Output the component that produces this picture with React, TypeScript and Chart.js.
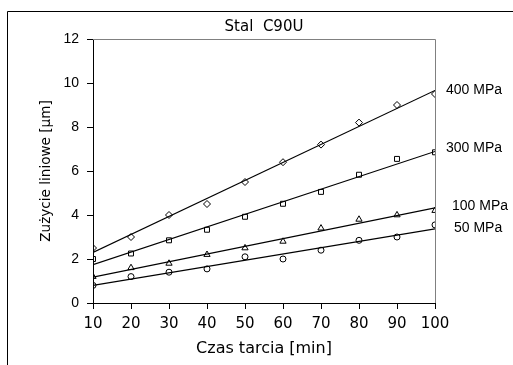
import React, { useEffect, useRef } from "react";
import { Chart, registerables } from "chart.js";

Chart.register(...registerables);

// ---- data ----
const times = [10, 20, 30, 40, 50, 60, 70, 80, 90, 100];
const wear400 = [2.5, 3.0, 4.0, 4.5, 5.5, 6.4, 7.2, 8.2, 9.0, 9.5];
const wear300 = [2.0, 2.25, 2.85, 3.33, 3.92, 4.51, 5.05, 5.83, 6.55, 6.85];
const wear100 = [1.2, 1.6, 1.8, 2.2, 2.5, 2.8, 3.4, 3.8, 4.0, 4.2];
const wear50 = [0.8, 1.2, 1.4, 1.55, 2.1, 2.0, 2.4, 2.85, 3.0, 3.55];
const seriesNames = ["400 MPa", "300 MPa", "100 MPa", "50 MPa"];
const seriesValues = [wear400, wear300, wear100, wear50];
const markerStyles = ["rectRot", "rect", "triangle", "circle"];
const markerRadius = [3.5, 3.5, 3.6, 3];
// label anchors, in value units of the y axis
const labelValues = [9.68, 7.06, 4.38, 3.4];
const labelOffsetsPx = [11, 11, 17, 19];

const chartTitle = "Stal  C90U";
const xTitle = "Czas tarcia [min]";
const yTitle = "Zużycie liniowe [µm]";

function fitLine(xs: number[], ys: number[]) {
  const n = xs.length;
  const mx = xs.reduce((a, b) => a + b, 0) / n;
  const my = ys.reduce((a, b) => a + b, 0) / n;
  let sxy = 0;
  let sxx = 0;
  for (let i = 0; i < n; i++) {
    sxy += (xs[i] - mx) * (ys[i] - my);
    sxx += (xs[i] - mx) * (xs[i] - mx);
  }
  const b = sxy / sxx;
  const a = my - b * mx;
  const x0 = xs[0];
  const x1 = xs[n - 1];
  return [
    { x: x0, y: a + b * x0 },
    { x: x1, y: a + b * x1 },
  ];
}

const decorPlugin = {
  id: "decor",
  beforeDraw(chart: any) {
    const { ctx, width, height } = chart;
    ctx.save();
    ctx.fillStyle = "#ffffff";
    ctx.fillRect(0, 0, width, height);
    ctx.strokeStyle = "#000000";
    ctx.lineWidth = 1;
    ctx.beginPath();
    ctx.moveTo(7.5, height);
    ctx.lineTo(7.5, 11.5);
    ctx.lineTo(width, 11.5);
    ctx.stroke();
    ctx.restore();
  },
  beforeDatasetsDraw(chart: any) {
    const { ctx, chartArea } = chart;
    ctx.save();
    ctx.strokeStyle = "#808080";
    ctx.lineWidth = 1;
    ctx.beginPath();
    ctx.moveTo(chartArea.left, Math.round(chartArea.top) + 0.5);
    ctx.lineTo(Math.round(chartArea.right) + 0.5, Math.round(chartArea.top) + 0.5);
    ctx.lineTo(Math.round(chartArea.right) + 0.5, chartArea.bottom);
    ctx.stroke();
    ctx.restore();
  },
  afterDatasetsDraw(chart: any) {
    const { ctx, chartArea, scales } = chart;
    ctx.save();
    ctx.fillStyle = "#000000";
    ctx.font = '14px "Liberation Sans", Arial, sans-serif';
    ctx.textAlign = "left";
    ctx.textBaseline = "middle";
    seriesNames.forEach((name, i) => {
      const y = scales.y.getPixelForValue(labelValues[i]);
      ctx.fillText(name, chartArea.right + labelOffsetsPx[i], y);
    });
    ctx.restore();
  },
};

export default function App() {
  const ref = useRef<HTMLCanvasElement | null>(null);

  useEffect(() => {
    if (!ref.current) return;
    const datasets: any[] = [];
    seriesValues.forEach((vals, i) => {
      datasets.push({
        type: "line",
        label: seriesNames[i] + " trend",
        data: fitLine(times, vals),
        borderColor: "#000000",
        borderWidth: 1.2,
        pointRadius: 0,
        showLine: true,
        fill: false,
      });
    });
    seriesValues.forEach((vals, i) => {
      datasets.push({
        type: "scatter",
        label: seriesNames[i],
        data: times.map((t, k) => ({ x: t, y: vals[k] })),
        pointStyle: markerStyles[i],
        pointRadius: markerRadius[i],
        borderColor: "#000000",
        backgroundColor: "rgba(255,255,255,0)",
        borderWidth: 1,
        showLine: false,
      });
    });

    const chart = new Chart(ref.current, {
      type: "scatter",
      data: { datasets },
      plugins: [decorPlugin],
      options: {
        responsive: false,
        animation: false,
        events: [],
        layout: { padding: { left: 0, right: 78, top: 0, bottom: 0 } },
        plugins: {
          legend: { display: false },
          tooltip: { enabled: false },
          title: {
            display: true,
            text: chartTitle,
            fullSize: false,
            color: "#000000",
            font: { family: '"DejaVu Sans", sans-serif', size: 15, weight: "normal", lineHeight: 1.2 },
            padding: { top: 18, bottom: 3 },
          },
        },
        scales: {
          x: {
            type: "linear",
            min: 10,
            max: 100,
            afterFit(scale: any) {
              scale.height = 62;
            },
            ticks: {
              stepSize: 10,
              color: "#000000",
              padding: 6,
              font: { family: '"DejaVu Sans", sans-serif', size: 15 },
            },
            grid: {
              display: true,
              drawOnChartArea: false,
              drawTicks: true,
              tickLength: 6,
              color: "#000000",
              lineWidth: 1,
            },
            border: { display: true, color: "#000000", width: 1 },
            title: {
              display: true,
              text: xTitle,
              color: "#000000",
              font: { family: '"DejaVu Sans", sans-serif', size: 16, lineHeight: 1.2 },
              padding: { top: 0, bottom: 7 },
            },
          },
          y: {
            type: "linear",
            min: 0,
            max: 12,
            afterFit(scale: any) {
              scale.width = 93;
            },
            ticks: {
              stepSize: 2,
              color: "#000000",
              padding: 8,
              font: { family: '"Liberation Sans", Arial, sans-serif', size: 14 },
            },
            grid: {
              display: true,
              drawOnChartArea: false,
              drawTicks: true,
              tickLength: 6,
              color: "#000000",
              lineWidth: 1,
            },
            border: { display: true, color: "#000000", width: 1 },
            title: {
              display: true,
              text: yTitle,
              color: "#000000",
              font: { family: '"DejaVu Sans", sans-serif', size: 13.6, lineHeight: 1.2 },
              padding: { top: 38, bottom: 0 },
            },
          },
        },
      } as any,
    });
    return () => chart.destroy();
  }, []);

  return (
    <div style={{ position: "fixed", left: 0, top: 0, width: 513, height: 365, background: "#fff" }}>
      <canvas ref={ref} width={513} height={365} style={{ display: "block" }} />
    </div>
  );
}
